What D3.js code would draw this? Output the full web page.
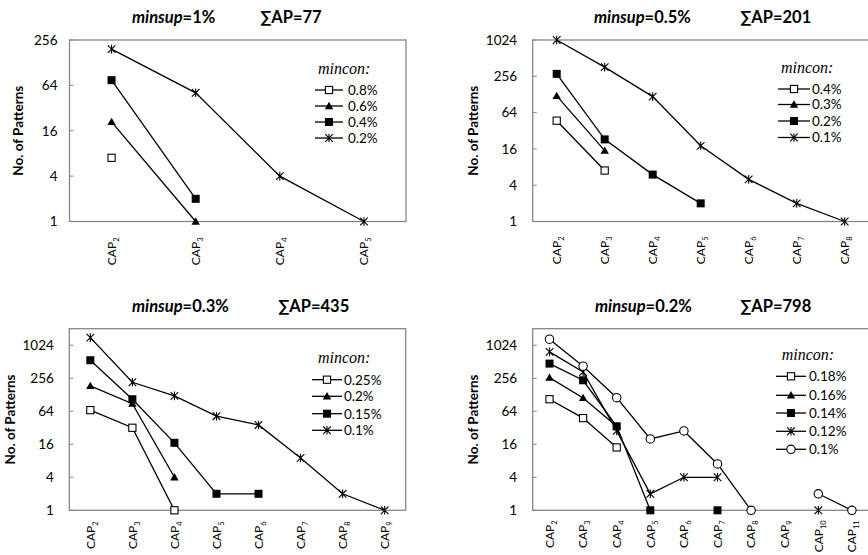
<!DOCTYPE html>
<html><head><meta charset="utf-8">
<script src="https://cdn.jsdelivr.net/npm/d3@7"></script>
<style>body{margin:0;background:#fff}svg{display:block}</style>
</head><body>
<svg id="c" width="868" height="555"></svg>
<script>
// ---------- data ----------
const cats1 = ["2","3","4","5"];
const names1 = ["0.8%","0.6%","0.4%","0.2%"];
const p1s0 = [7, null, null, null];
const p1s1 = [21, 1, null, null];
const p1s2 = [75, 2, null, null];
const p1s3 = [194, 51, 4, 1];
const yTicks1 = [1,4,16,64,256];

const cats2 = ["2","3","4","5","6","7","8"];
const names2 = ["0.4%","0.3%","0.2%","0.1%"];
const p2s0 = [47, 7, null, null, null, null, null];
const p2s1 = [121, 15, null, null, null, null, null];
const p2s2 = [281, 23, 6, 2, null, null, null];
const p2s3 = [1024, 363, 118, 18, 5, 2, 1];
const yTicks2 = [1,4,16,64,256,1024];

const cats3 = ["2","3","4","5","6","7","8","9"];
const names3 = ["0.25%","0.2%","0.15%","0.1%"];
const p3s0 = [67, 32, 1, null, null, null, null, null];
const p3s1 = [185, 88, 4, null, null, null, null, null];
const p3s2 = [545, 106, 17, 2, 2, null, null, null];
const p3s3 = [1410, 216, 122, 52, 36, 9, 2, 1];
const yTicks3 = [1,4,16,64,256,1024];

const cats4 = ["2","3","4","5","6","7","8","9","10","11"];
const names4 = ["0.18%","0.16%","0.14%","0.12%","0.1%"];
const p4s0 = [106, 48, 14, null, null, null, null, null, null, null];
const p4s1 = [262, 112, 34, null, null, null, null, null, null, null];
const p4s2 = [473, 235, 34, 1, null, 1, null, null, null, null];
const p4s3 = [774, 333, 28, 2, 4, 4, null, null, 1, null];
const p4s4 = [1316, 424, 113, 20, 28, 7, 1, null, 2, 1];
const yTicks4 = [1,4,16,64,256,1024];

const minsups = ["1%","0.5%","0.3%","0.2%"];
const sumAPs = ["77","201","435","798"];

// ---------- layout ----------
const panels = [
  {cats:cats1, names:names1, series:[p1s0,p1s1,p1s2,p1s3], ticks:yTicks1, ymax:256,
   x0:69.5, x1:406, y0:40, y1:221.5, tickGap:12, yTitleX:18, labGap:16,
   t1x:132, t2x:260, ty:23,
   leg:{mx:318, my:68, lx0:315, lx1:343, tx:348, rows:[90,106,122,138]}},
  {cats:cats2, names:names2, series:[p2s0,p2s1,p2s2,p2s3], ticks:yTicks2, ymax:1024,
   x0:532.7, x1:868.7, y0:40, y1:221.5, tickGap:15.5, yTitleX:473, labGap:15,
   t1x:594, t2x:740, ty:23,
   leg:{mx:781, my:67, lx0:778, lx1:810, tx:812, rows:[89,104.5,121,137.5]}},
  {cats:cats3, names:names3, series:[p3s0,p3s1,p3s2,p3s3], ticks:yTicks3, ymax:2048,
   x0:69.3, x1:405.7, y0:328.7, y1:510.3, tickGap:15.5, yTitleX:10, labGap:11,
   t1x:132, t2x:278, ty:312,
   leg:{mx:318, my:357, lx0:312, lx1:342, tx:344, rows:[379.7,396.3,413.7,430.3]}},
  {cats:cats4, names:names4, series:[p4s0,p4s1,p4s2,p4s3,p4s4], ticks:yTicks4, ymax:2048,
   x0:532.7, x1:868.7, y0:328.7, y1:510.3, tickGap:15.5, yTitleX:473, labGap:10,
   t1x:595, t2x:740, ty:312,
   leg:{mx:781.7, my:354, lx0:776, lx1:806, tx:809, rows:[376.3,395.3,413,431.3,449.3]}}
];

const svg = d3.select("#c");
const FONT = "Lato, 'Open Sans', sans-serif";
const GREY = "#878787";

function marker(g, type, x, y) {
  const s = 3.6;
  if (type === 0) {
    g.append("rect").attr("x", x-s).attr("y", y-s).attr("width", 2*s).attr("height", 2*s)
      .attr("fill","#fff").attr("stroke","#000").attr("stroke-width",1.1);
  } else if (type === 1) {
    const t = 4.2;
    g.append("path").attr("d", `M${x},${y-t}L${x+t},${y+t*0.75}L${x-t},${y+t*0.75}Z`).attr("fill","#000");
  } else if (type === 2) {
    g.append("rect").attr("x", x-4).attr("y", y-4).attr("width", 8).attr("height", 8).attr("fill","#000");
  } else if (type === 3) {
    const a = 3.8;
    g.append("path").attr("d", `M${x-a},${y-a}L${x+a},${y+a}M${x-a},${y+a}L${x+a},${y-a}M${x},${y-a-0.5}L${x},${y+a+0.5}`)
      .attr("stroke","#000").attr("stroke-width",1.1).attr("fill","none");
  } else {
    g.append("circle").attr("cx", x).attr("cy", y).attr("r", 4.2)
      .attr("fill","#fff").attr("stroke","#000").attr("stroke-width",1.1);
  }
}

panels.forEach((p, pi) => {
  const g = svg.append("g");
  const x = d3.scaleBand().domain(p.cats).range([p.x0, p.x1]);
  const y = d3.scaleLog().base(2).domain([1, p.ymax]).range([p.y1, p.y0]);

  // frame
  g.append("rect").attr("x", p.x0).attr("y", p.y0).attr("width", p.x1-p.x0).attr("height", p.y1-p.y0)
    .attr("fill","none").attr("stroke", GREY).attr("stroke-width",1.3);

  // y axis
  const ya = d3.axisLeft(y).tickValues(p.ticks).tickFormat(d3.format("d")).tickSize(0).tickPadding(p.tickGap);
  const yg = g.append("g").attr("transform", `translate(${p.x0},0)`).call(ya);
  yg.select(".domain").remove();
  yg.selectAll("text").attr("font-family", FONT).attr("font-size", 13.5).attr("fill","#000");
  g.selectAll(".ytk").data(p.ticks).enter().append("line")
    .attr("x1", p.x0).attr("x2", p.x0+4).attr("y1", d=>y(d)).attr("y2", d=>y(d))
    .attr("stroke", GREY).attr("stroke-width",1);

  // x axis labels (rotated, with subscript)
  const xa = d3.axisBottom(x).tickSize(0).tickFormat("");
  const xg = g.append("g").attr("transform", `translate(0,${p.y1})`).call(xa);
  xg.select(".domain").remove();
  xg.selectAll(".tick").each(function(d){
    const t = d3.select(this).append("text")
      .attr("transform","rotate(-90)").attr("x", -p.labGap).attr("y", 0).attr("dy","0.36em")
      .attr("text-anchor","end").attr("font-family", FONT).attr("font-size", 12).attr("fill","#000");
    t.append("tspan").text("CAP");
    t.append("tspan").attr("dy", 3).attr("font-size", 7.5).text(d);
  });

  // y title
  g.append("text").attr("transform", `translate(${p.yTitleX + 4.5},${(p.y0+p.y1)/2}) rotate(-90)`)
    .attr("text-anchor","middle").attr("font-family", FONT).attr("font-weight","bold")
    .attr("font-size", 13.5).text("No. of Patterns");

  // title
  const t1 = g.append("text").attr("x", p.t1x).attr("y", p.ty).attr("font-family", FONT)
    .attr("font-weight","bold").attr("font-size", 16.5);
  t1.append("tspan").attr("font-style","italic").text("minsup");
  t1.append("tspan").text("=" + minsups[pi]);
  g.append("text").attr("x", p.t2x).attr("y", p.ty).attr("font-family", FONT)
    .attr("font-weight","bold").attr("font-size", 16.5).text("\u2211AP=" + sumAPs[pi]);

  // series
  const line = d3.line().defined(d => d.v != null).x(d => x(d.c) + x.bandwidth()/2).y(d => y(d.v));
  p.series.forEach((s, si) => {
    const pts = s.map((v, i) => ({c: p.cats[i], v}));
    g.append("path").datum(pts).attr("d", line).attr("fill","none").attr("stroke","#000").attr("stroke-width",1.3);
  });
  p.series.forEach((s, si) => {
    s.forEach((v, i) => {
      if (v != null) marker(g, si, x(p.cats[i]) + x.bandwidth()/2, y(v));
    });
  });

  // legend
  const L = p.leg;
  g.append("text").attr("x", L.mx).attr("y", L.my).attr("dy","0.35em")
    .attr("font-family","'Liberation Serif', serif").attr("font-style","italic").attr("font-size", 16)
    .text("mincon:");
  p.names.forEach((n, si) => {
    const ry = L.rows[si];
    g.append("line").attr("x1", L.lx0).attr("x2", L.lx1).attr("y1", ry).attr("y2", ry)
      .attr("stroke","#000").attr("stroke-width",1.3);
    marker(g, si, (L.lx0+L.lx1)/2, ry);
    g.append("text").attr("x", L.tx).attr("y", ry).attr("dy","0.36em")
      .attr("font-family", FONT).attr("font-size", 13.5).text(n);
  });
});
</script>
</body></html>
